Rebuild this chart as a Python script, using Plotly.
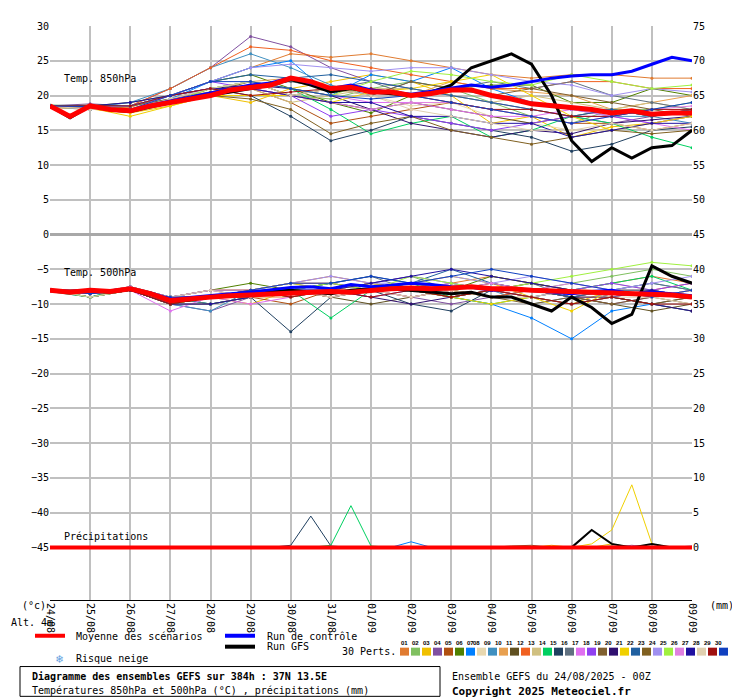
import plotly.graph_objects as go

# ---- data ----
dates = ["24/08", "25/08", "26/08", "27/08", "28/08", "29/08", "30/08", "31/08", "01/09",
         "02/09", "03/09", "04/09", "05/09", "06/09", "07/09", "08/09", "09/09"]
days = list(range(17))
half_days = [i / 2 for i in range(33)]

colors = ["#e07b30", "#80c060", "#f0c000", "#8050a0", "#b05010", "#508000", "#0080ff", "#e8d8b0",
          "#4090c0", "#e8a050", "#605020", "#f06020", "#d0c080", "#00d060", "#204060", "#607080",
          "#e070f0", "#9040f0", "#806030", "#301070", "#f0d000", "#2060a0", "#806020", "#a090f0",
          "#a0f040", "#e080e0", "#2010a0", "#e0d0b0", "#a01010", "#1040c0"]

t850 = [
    [18.5, 18.2, 18.3, 20, 22, 24, 26, 25.5, 26, 25, 24, 23, 22.5, 23, 23, 22.5, 22.5],
    [18.4, 18.6, 18, 19, 21, 22, 20, 19.5, 21, 22, 21, 19, 17, 16, 18, 18, 19],
    [18.6, 18, 17.5, 18.5, 20, 19, 21, 22, 23, 22, 20, 16, 17, 14, 15.5, 16, 17],
    [18.5, 18.8, 18.5, 21, 24, 28.5, 27, 24, 22, 21, 20, 19, 18, 17, 16, 17, 18],
    [18.3, 18, 18, 19, 21, 21, 19, 16, 17, 18, 19, 18, 17, 16, 16, 15, 16],
    [18.5, 18.5, 19, 20, 22, 23, 21, 19, 17.5, 20, 21, 21.5, 21.5, 19, 19, 21, 20],
    [18.4, 18, 18, 19.5, 22, 24, 25, 20, 23, 22, 24, 21, 19, 18, 18, 17, 18],
    [18.5, 18.5, 18, 20, 20.5, 21, 20, 21, 20, 18.5, 19, 17, 16, 15, 15, 16, 17],
    [18.6, 18.3, 19, 21, 24, 26, 24, 21.5, 20, 22, 21, 20, 19, 18, 17, 17, 16],
    [18.5, 18.2, 18, 19.5, 21, 22, 22.5, 20.5, 21, 20, 22, 21, 20.5, 20, 18, 19, 20],
    [18.4, 18.5, 18, 19, 20, 21, 20, 19, 18, 19, 18, 17, 16, 17, 18, 17, 18],
    [18.5, 18.6, 18.5, 21, 24, 27, 26.5, 25, 24, 23, 22, 21, 21, 22, 22, 21, 21],
    [18.3, 18, 18, 19, 20, 21, 19, 20, 21, 21, 20, 19, 20, 19, 18, 19, 18],
    [18.5, 18, 18.5, 19.5, 21, 22, 21, 18, 14.5, 16, 17, 14, 15, 17, 16, 14, 12.5],
    [18.6, 18.5, 18.5, 20, 21, 20, 17, 13.5, 15, 17, 16, 15, 14, 12, 13, 15, 15.5],
    [18.5, 18.5, 18, 19, 20, 21.5, 22, 21, 22, 20, 21, 22, 21, 22, 20, 19, 18],
    [18.4, 18.3, 18, 19.5, 21, 22, 21, 20, 19, 19, 18, 17, 17, 18, 17, 16, 15],
    [18.5, 18, 18, 20, 22, 21, 20, 17, 18, 17, 16, 15, 16, 17, 17, 16, 17],
    [18.5, 18.6, 18.5, 19.5, 20.5, 22, 20, 21, 20, 22, 21, 20, 21, 20, 19, 18, 17],
    [18.5, 18.4, 18.5, 20, 21, 21.5, 21, 20, 18, 16, 15, 14, 15, 14.5, 16, 16.5, 17],
    [18.4, 18.2, 17, 18.5, 20, 20, 20, 19, 20.5, 21, 22, 23, 20, 17, 15, 16, 17],
    [18.5, 18.5, 18.5, 20, 22, 23, 22.5, 23, 22, 21, 20, 19, 18, 17, 18, 17, 18],
    [18.5, 18.2, 18, 19, 20, 19.5, 18, 14.5, 16, 17, 15, 14, 13, 14, 15, 14.5, 15],
    [18.5, 18.3, 18.5, 20, 22, 24, 24.5, 24, 23.5, 24, 24, 23, 22, 21.5, 20, 21, 20.5],
    [18.6, 18.5, 18, 19, 21, 22, 21, 20, 22, 23.5, 23, 22, 21.5, 23, 22, 21, 21.5],
    [18.4, 18.4, 18, 20, 21, 21, 20, 19, 18, 19, 19, 18, 17, 16, 17, 18, 18.5],
    [18.5, 18.5, 19, 20, 21, 21, 20, 19, 19, 17, 17, 16, 16, 14, 15, 16, 16],
    [18.5, 18, 18, 19.5, 21, 22, 20, 21, 20, 18, 17, 16, 15, 15, 16, 15, 16],
    [18.5, 18.5, 18.5, 20, 21, 20, 20.5, 21, 21, 20, 19, 18, 18, 17, 17, 18, 18],
    [18.5, 18.4, 18, 20, 22, 22, 21, 20, 19.5, 20, 19, 18, 17, 16, 17, 18, 19],
]

t500 = [
    [-8, -8.5, -8, -9, -8, -8, -7, -6, -7, -8, -7, -6, -7, -8, -7, -6, -7],
    [-8, -9, -8, -10, -9, -8, -9, -8, -7, -6, -8, -9, -8, -7, -6, -5, -6],
    [-8.2, -8.5, -7.5, -9, -9, -10, -8, -9, -8, -7, -6, -7, -9, -10, -8, -9, -8],
    [-8, -8, -8, -10, -11, -9, -8, -7, -8, -9, -10, -9, -8, -9, -10, -9, -8],
    [-8, -8.5, -8, -10, -9, -9, -10, -8, -7, -8, -9, -8, -7, -8, -9, -10, -11],
    [-8, -9, -8, -9, -8, -7, -8, -9, -8, -7, -8, -6, -7, -8, -9, -8, -9],
    [-8, -8.5, -8, -9, -10, -9, -8, -7, -8, -8, -9, -10, -12, -15, -11, -10, -11],
    [-8, -8, -8, -9, -9, -9, -8, -8, -7, -8, -8, -9, -9, -8, -8, -9, -8],
    [-8.2, -9, -7.5, -10, -11, -8, -7, -8, -9, -8, -7, -8, -10, -9, -8, -7, -8],
    [-8, -8.5, -8, -9, -8, -9, -9, -8, -8, -9, -8, -7, -8, -9, -9, -8, -9],
    [-8, -9, -8, -10, -9, -9, -8, -9, -10, -9, -8, -7, -8, -9, -10, -11, -10],
    [-8, -8, -8, -9, -8, -8, -7, -7, -8, -7, -8, -9, -8, -9, -8, -8, -7],
    [-8, -8.5, -8, -9, -9, -8, -9, -8, -7, -8, -9, -8, -9, -8, -7, -8, -9],
    [-8.2, -9, -7.5, -9, -10, -9, -8, -12, -8, -7, -9, -10, -9, -8, -7, -6, -8],
    [-8, -8.5, -8, -10, -9, -9, -14, -9, -8, -10, -11, -8, -9, -10, -9, -10, -9],
    [-8, -9, -8, -9, -10, -9, -8, -7, -6, -8, -9, -8, -7, -9, -8, -7, -8],
    [-8, -8, -8, -11, -9, -10, -9, -8, -9, -8, -7, -8, -9, -10, -9, -8, -9],
    [-8, -8.5, -8, -9, -8, -9, -8, -8, -7, -6, -7, -8, -9, -8, -7, -8, -7],
    [-8, -9, -8, -10, -9, -8, -9, -8, -8, -9, -8, -9, -10, -9, -10, -9, -10],
    [-8.2, -8.5, -7.5, -9, -9, -9, -8, -8, -9, -10, -9, -8, -8, -9, -9, -10, -11],
    [-8, -8.5, -8, -10, -9, -8, -7, -8, -7, -8, -9, -10, -9, -11, -8, -9, -8],
    [-8, -9, -8, -9, -9, -8, -8, -7, -6, -7, -5, -7, -8, -9, -8, -8, -9],
    [-8, -8, -8, -10, -10, -9, -8, -9, -8, -8, -9, -8, -9, -10, -9, -10, -9],
    [-8, -8.5, -8, -9, -8, -8, -7, -6, -7, -7, -6, -7, -6, -7, -8, -7, -6],
    [-8, -9, -8, -9, -9, -9, -8, -7, -8, -6, -7, -8, -7, -6, -5, -4, -4.5],
    [-8.2, -8.5, -7.5, -9, -9, -8, -8, -9, -8, -9, -8, -7, -8, -7, -8, -9, -8],
    [-8, -8.5, -8, -10, -10, -9, -8, -8, -7, -6, -5, -6, -7, -8, -9, -8, -9],
    [-8, -9, -8, -9, -8, -9, -8, -9, -8, -9, -8, -9, -9, -8, -9, -9, -10],
    [-8, -8, -8, -10, -9, -8, -9, -8, -9, -8, -9, -8, -9, -10, -9, -10, -10],
    [-8, -8.5, -8, -9, -9, -8, -7, -7, -6, -7, -6, -5, -6, -7, -8, -9, -8],
]

mean850 = [18.5, 17, 18.5, 18, 17.8, 18.5, 19, 19.5, 20, 20.8, 21.2, 21.5, 22.5, 22, 21, 21.2,
           20.5, 20.5, 20, 20.3, 20.8, 20.8, 20, 19.5, 18.8, 18.5, 18.3, 18, 17.5, 17.8, 17.3, 17.5, 17.5]
ctrl850 = [18.5, 17, 18.6, 18, 17.8, 18.6, 19.2, 19.8, 20.3, 21, 21.5, 21.8, 22.6, 21.8, 21, 21.5,
           20.8, 20.5, 20.2, 20.6, 21, 21.5, 21.2, 21.5, 22, 22.5, 22.8, 23, 23, 23.5, 24.5, 25.5, 25]
gfs850 = [18.5, 16.8, 18.5, 17.9, 17.7, 18.4, 19, 19.6, 20, 20.5, 21, 21.5, 22.3, 21.5, 20.5, 21,
          20.5, 20.3, 20, 20.5, 21.5, 24, 25, 26, 24.5, 20, 13.5, 10.5, 12.5, 11, 12.5, 12.8, 15]
mean500 = [-8, -8.3, -8, -8.2, -7.8, -8.5, -9.5, -9.2, -9, -8.8, -8.7, -8.5, -8.5, -8.3, -8.2, -8.3,
           -8, -7.8, -7.7, -7.8, -7.7, -7.5, -7.8, -7.8, -8, -8.1, -8.2, -8.3, -8.4, -8.5, -8.6, -8.7, -9]
ctrl500 = [-8, -8.2, -8, -8.1, -7.8, -8.4, -9.3, -9, -8.7, -8.5, -8.3, -8, -7.6, -7.5, -7.8, -7.2,
           -7.5, -7.3, -7, -7.2, -7.5, -7.6, -8, -7.8, -8, -8.3, -8.5, -8.2, -8, -8.5, -8.3, -8.5, -8.8]
gfs500 = [-8, -8.3, -8, -8.3, -7.9, -8.6, -9.6, -9.4, -9, -8.8, -8.5, -8.2, -8, -8.3, -8.5, -8,
          -7.8, -7.8, -8, -8.2, -8.5, -8.3, -9, -9, -10, -11, -9, -10.5, -12.8, -11.5, -4.5, -6, -7]

# precipitation (mm): a few members with rain, on 12h steps
rain_members = [14, 13, 20, 2, 6, 3, 18]
rain_values = [
    [0, 0, 0, 0, 0, 0, 0, 0, 0, 0, 0, 0, 0.3, 4.5, 0.2, 0, 0, 0, 0, 0, 0, 0, 0, 0, 0, 0, 0, 0, 0, 0, 0, 0, 0],
    [0, 0, 0, 0, 0, 0, 0, 0, 0, 0, 0, 0, 0, 0, 0.3, 6, 0.2, 0, 0, 0, 0, 0, 0, 0, 0, 0, 0, 0, 0, 0, 0, 0, 0],
    [0, 0, 0, 0, 0, 0, 0, 0, 0, 0, 0, 0, 0, 0, 0, 0, 0, 0, 0, 0, 0, 0, 0, 0, 0, 0, 0, 0.5, 2.5, 9, 0.5, 0, 0],
    [0, 0, 0, 0, 0, 0, 0, 0, 0, 0, 0, 0, 0, 0, 0, 0, 0, 0, 0, 0, 0, 0, 0, 0, 0, 0.3, 0, 0, 0.5, 0, 0, 0, 0],
    [0, 0, 0, 0, 0, 0, 0, 0, 0, 0, 0, 0, 0, 0, 0, 0, 0, 0, 0.8, 0, 0, 0, 0, 0, 0, 0, 0, 0, 0, 0, 0, 0, 0],
    [0, 0, 0, 0, 0, 0, 0, 0, 0, 0, 0, 0, 0, 0, 0, 0, 0, 0, 0, 0, 0, 0, 0, 0, 0, 0, 0, 0, 0, 0.3, 0, 0, 0.2],
    [0, 0, 0, 0, 0, 0, 0, 0, 0, 0, 0, 0, 0, 0, 0, 0, 0, 0, 0, 0, 0, 0, 0, 0.2, 0.3, 0, 0, 0, 0.2, 0, 0, 0, 0],
]
gfs_rain = [0, 0, 0, 0, 0, 0, 0, 0, 0, 0, 0, 0, 0, 0, 0, 0, 0, 0, 0, 0, 0, 0, 0, 0, 0, 0, 0, 2.5, 0.5, 0, 0.5, 0, 0]
mean_rain = [0] * 33

FONT = "DejaVu Sans Mono"
OFF = 8  # page body margin
W, H = 740 - OFF, 700 - OFF
L, R, T, B = 50 - OFF, 48, 22 - OFF, 100


def px(x):
    return (x - OFF - L) / (W - L - R)


def py(y):
    return (H - B - (y - OFF)) / (H - T - B)


fig = go.Figure()

for i, c in enumerate(colors):
    fig.add_trace(go.Scatter(x=days, y=t850[i], mode="lines+markers", line=dict(color=c, width=1),
                             marker=dict(size=3, color=c), showlegend=False))
    fig.add_trace(go.Scatter(x=days, y=t500[i], mode="lines+markers", line=dict(color=c, width=1),
                             marker=dict(size=3, color=c), showlegend=False))

for m, vals in zip(rain_members, rain_values):
    fig.add_trace(go.Scatter(x=half_days, y=vals, yaxis="y2", mode="lines", line=dict(color=colors[m], width=1),
                             showlegend=False))

for ys, col, wdt in [(gfs850, "black", 3), (gfs500, "black", 3), (ctrl850, "#0000ff", 3), (ctrl500, "#0000ff", 3),
                     (mean850, "red", 5), (mean500, "red", 5)]:
    fig.add_trace(go.Scatter(x=half_days, y=ys, mode="lines", line=dict(color=col, width=wdt), showlegend=False))
fig.add_trace(go.Scatter(x=half_days, y=gfs_rain, yaxis="y2", mode="lines", line=dict(color="black", width=2),
                         showlegend=False))
fig.add_trace(go.Scatter(x=half_days, y=mean_rain, yaxis="y2", mode="lines", line=dict(color="red", width=4),
                         showlegend=False))

fig.update_layout(
    width=W, height=H, margin=dict(l=L, r=R, t=T, b=B),
    paper_bgcolor="white", plot_bgcolor="white",
    font=dict(family=FONT, size=10, color="black"),
    xaxis=dict(range=[0, 16], tickvals=days, ticktext=dates, tickangle=90, showgrid=True,
               gridcolor="#c0c0c0", gridwidth=2, zeroline=False, showline=True, linecolor="black",
               ticks="", tickfont=dict(size=10)),
    yaxis=dict(range=[-52.57, 30], tickvals=list(range(-45, 31, 5)), showgrid=True, gridcolor="#c0c0c0",
               gridwidth=2, zeroline=True, zerolinecolor="#a8a8a8", zerolinewidth=3, showline=False),
    yaxis2=dict(range=[-7.57, 75], overlaying="y", side="right", tickvals=list(range(0, 76, 5)),
                showgrid=False, zeroline=False, showline=False),
    showlegend=False,
)

ann = [
    dict(x=0.3, y=22.5, xref="x", yref="y", text="Temp. 850hPa", xanchor="left"),
    dict(x=0.3, y=-5.5, xref="x", yref="y", text="Temp. 500hPa", xanchor="left"),
    dict(x=0.3, y=-43.5, xref="x", yref="y", text="Précipitations", xanchor="left"),
    dict(x=px(20), y=py(606), text="(°c)", xanchor="left"),
    dict(x=px(708), y=py(606), text="(mm)", xanchor="left"),
    dict(x=px(9), y=py(623), text="Alt. 4m", xanchor="left"),
    dict(x=px(74), y=py(637), text="Moyenne des scénarios", xanchor="left"),
    dict(x=px(265), y=py(637), text="Run de contrôle", xanchor="left"),
    dict(x=px(265), y=py(647), text="Run GFS", xanchor="left"),
    dict(x=px(54), y=py(659), text="❄", xanchor="left", font=dict(color="#60a0e0", size=12)),
    dict(x=px(74), y=py(659), text="Risque neige", xanchor="left"),
    dict(x=px(340), y=py(652), text="30 Perts.", xanchor="left"),
    dict(x=px(30), y=py(677), text="<b>Diagramme des ensembles GEFS sur 384h : 37N 13.5E</b>", xanchor="left"),
    dict(x=px(30), y=py(691), text="Températures 850hPa et 500hPa (°C) , précipitations (mm)", xanchor="left"),
    dict(x=px(450), y=py(677), text="Ensemble GEFS du 24/08/2025 - 00Z", xanchor="left"),
    dict(x=px(450), y=py(692), text="<b>Copyright 2025 Meteociel.fr</b>", xanchor="left", font=dict(size=11)),
]
for i in range(30):
    ann.append(dict(x=px(404.5 + i * 11), y=py(643), text="<b>%02d</b>" % (i + 1),
                    font=dict(size=6, family="Liberation Sans Narrow, Liberation Sans")))
for a in ann:
    a.setdefault("xref", "paper")
    a.setdefault("yref", "paper")
    a.update(showarrow=False, yanchor="middle")
    fig.add_annotation(**a)

shapes = [
    dict(type="line", x0=px(35), x1=px(65), y0=py(636), y1=py(636), line=dict(color="red", width=4)),
    dict(type="line", x0=px(225), x1=px(255), y0=py(636), y1=py(636), line=dict(color="#0000ff", width=4)),
    dict(type="line", x0=px(225), x1=px(255), y0=py(647), y1=py(647), line=dict(color="black", width=4)),
    dict(type="rect", x0=px(20), x1=px(440), y0=py(667), y1=py(697), line=dict(color="black", width=1)),
]
for i, c in enumerate(colors):
    shapes.append(dict(type="rect", x0=px(400 + i * 11), x1=px(409 + i * 11), y0=py(648), y1=py(656),
                       fillcolor=c, line=dict(width=0)))
for s in shapes:
    s.setdefault("xref", "paper")
    s.setdefault("yref", "paper")
    fig.add_shape(**s)

fig.write_html("out.html")
